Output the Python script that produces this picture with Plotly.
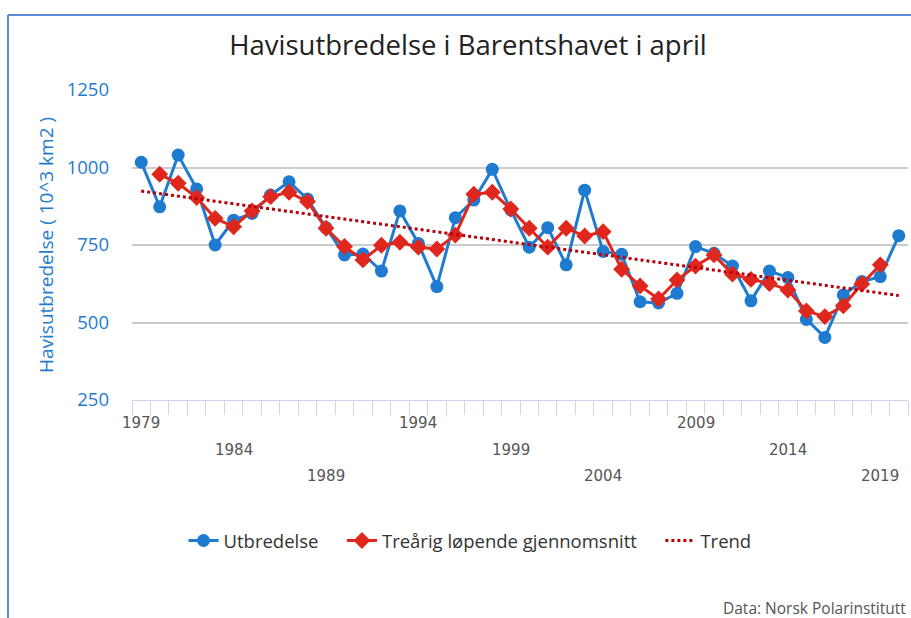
import plotly.graph_objects as go

# Sea-ice extent in the Barents Sea, April (10^3 km2)
years = list(range(1979, 2021))
extent = [1017, 873, 1040, 931, 750, 830, 852, 911, 954, 898, 806, 718,
          721, 666, 860, 755, 616, 838, 895, 994, 863, 743,
          806, 686, 927, 729, 720, 567, 563, 594, 745, 723,
          682, 570, 666, 645, 510, 452, 589, 632, 648, 780]

# Three-year running mean, 1980-2019
mean_years = list(range(1980, 2020))
running_mean = [978, 949, 903, 836, 809, 860, 906, 920, 890, 804,
                745, 702, 749, 759, 743, 737, 782, 914, 920, 866,
                804, 743, 804, 779, 793, 672, 618, 576, 637, 682,
                718, 656, 639, 626, 605, 537, 519, 554, 624, 686]

# Linear trend end points
trend_years = [1979, 2020]
trend_values = [924, 587]

label_years = [1979, 1984, 1989, 1994, 1999, 2004, 2009, 2014, 2019]
y_ticks = [250, 500, 750, 1000, 1250]

BLUE = "#1f7bd0"
RED = "#e0271d"
TREND = "#b8000b"
FONT = "Open Sans"

W, H = 911, 618
ML, MR, MT, MB = 132, 3, 90, 218
PW, PH = W - ML - MR, H - MT - MB

# extra room after a legend entry
PAD = "\u2002\u2002"


def px_x(px):
    return (px - ML) / PW


def px_y(py):
    return (H - MB - py) / PH


fig = go.Figure()
fig.add_trace(go.Scatter(
    x=years, y=extent, name="Utbredelse" + PAD, mode="lines+markers",
    line=dict(color=BLUE, width=3),
    marker=dict(symbol="circle", size=13, color=BLUE),
))
fig.add_trace(go.Scatter(
    x=mean_years, y=running_mean, name="Treårig løpende gjennomsnitt" + PAD,
    mode="lines+markers",
    line=dict(color=RED, width=3),
    marker=dict(symbol="diamond", size=13, color=RED),
))
fig.add_trace(go.Scatter(
    x=trend_years, y=trend_values, name="Trend", mode="lines",
    line=dict(color=TREND, width=3, dash="dot"),
))

# Staggered year labels under the category axis
annotations = []
row_shift = [-23, -50, -76]
for i, yr in enumerate(label_years):
    annotations.append(dict(
        x=yr, xref="x", y=0, yref="paper", yanchor="middle",
        yshift=row_shift[i % 3], text=str(yr), showarrow=False,
        font=dict(family="DejaVu Sans", size=15, color="#555555"),
    ))

# Y-axis title
annotations.append(dict(
    x=px_x(46), xref="paper", y=0.5, yref="paper", textangle=-90,
    text="Havisutbredelse ( 10^3 km2 )", showarrow=False,
    font=dict(family=FONT, size=19, color=BLUE),
    xanchor="center", yanchor="middle",
))

# Credit line
annotations.append(dict(
    x=px_x(908), xref="paper", y=px_y(608), yref="paper",
    xanchor="right", yanchor="middle", text="Data: Norsk Polarinstitutt",
    showarrow=False, font=dict(family=FONT, size=15.5, color="#555555"),
))

# Outer frame (top and left edges)
frame = dict(color="#5a8bd6", width=2)
shapes = [
    dict(type="line", xref="paper", yref="paper",
         x0=px_x(8), x1=px_x(915), y0=px_y(15), y1=px_y(15), line=frame),
    dict(type="line", xref="paper", yref="paper",
         x0=px_x(8), x1=px_x(8), y0=px_y(15), y1=px_y(625), line=frame),
]

fig.update_layout(
    width=W, height=H,
    margin=dict(l=ML, r=MR, t=MT, b=MB),
    paper_bgcolor="white", plot_bgcolor="white",
    font=dict(family=FONT),
    title=dict(
        text="Havisutbredelse i Barentshavet i april",
        x=468 / W, xanchor="center", y=1 - 45 / H, yanchor="middle",
        font=dict(family=FONT, size=27.5, color="#222222"),
    ),
    showlegend=True,
    legend=dict(
        orientation="h", x=px_x(470), xanchor="center",
        y=px_y(541), yanchor="middle",
        font=dict(family=FONT, size=18.5, color="#333333"),
        bgcolor="rgba(0,0,0,0)",
    ),
    annotations=annotations,
    shapes=shapes,
)

fig.update_xaxes(
    range=[1978.5, 2020.5],
    tickmode="array", tickvals=[y - 0.5 for y in years] + [2020.5],
    ticks="outside", ticklen=14, tickcolor="#ccd6eb", tickwidth=1,
    showticklabels=False, showgrid=False, zeroline=False,
    showline=True, linecolor="#ccd6eb", linewidth=1,
)
fig.update_yaxes(
    range=[250, 1250], tickmode="array", tickvals=y_ticks,
    showgrid=True, gridcolor="#cccccc", gridwidth=2,
    zeroline=False, showline=False, ticks="",
    ticklabelstandoff=22,
    tickfont=dict(family=FONT, size=18.5, color=BLUE),
)

fig.write_html("out.html", config={"displayModeBar": False})
